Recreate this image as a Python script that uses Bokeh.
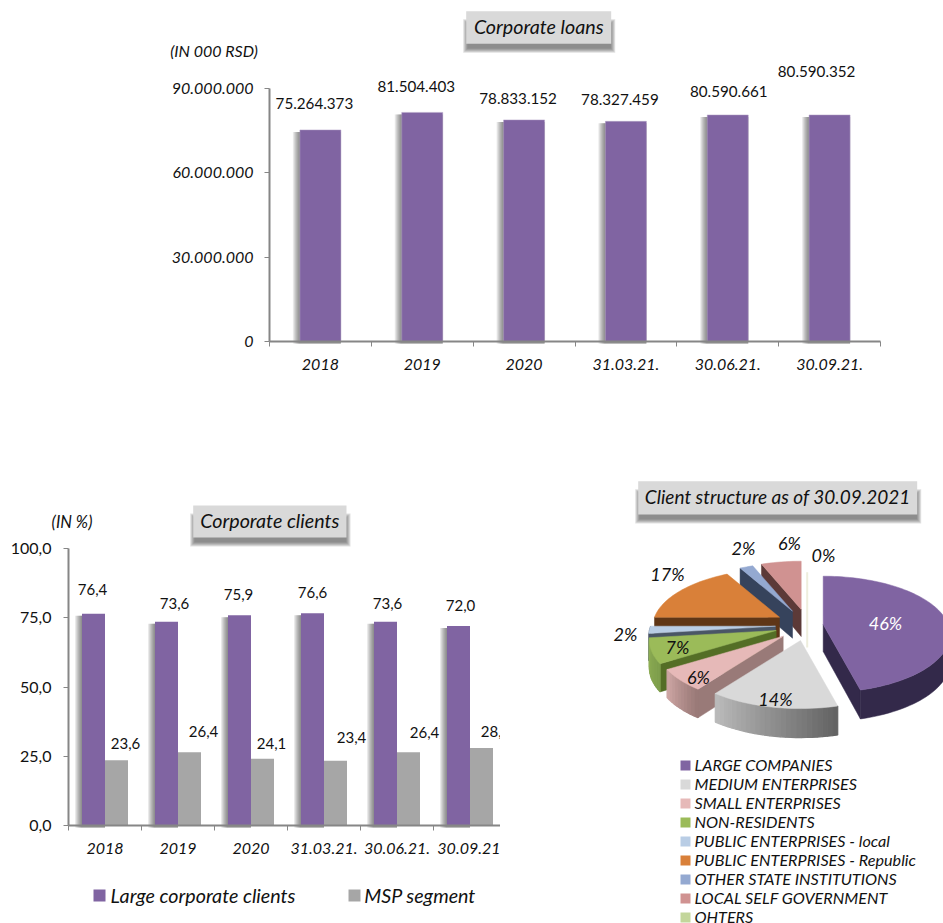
import math
from bokeh.plotting import figure
from bokeh.layouts import column, row
from bokeh.models import Range1d, FixedTicker, AllLabels, Label, BoxAnnotation
from bokeh.core.properties import value
from bokeh.embed import file_html
from bokeh.resources import INLINE

FONT = "Lato"
PURPLE = "#8064A2"
GREY = "#A6A6A6"
AXIS = "#868686"
TEXT = "#111111"

# ---------- data ----------
loan_periods = ["2018", "2019", "2020", "31.03.21.", "30.06.21.", "30.09.21."]
loan_values = [75264373, 81504403, 78833152, 78327459, 80590661, 80590352]
loan_labels = ["75.264.373", "81.504.403", "78.833.152", "78.327.459", "80.590.661", "80.590.352"]
loan_ticks = [0, 30000000, 60000000, 90000000]
loan_tick_labels = ["0", "30.000.000", "60.000.000", "90.000.000"]

client_periods = ["2018", "2019", "2020", "31.03.21.", "30.06.21.", "30.09.21"]
large_clients = [76.4, 73.6, 75.9, 76.6, 73.6, 72.0]
msp_segment = [23.6, 26.4, 24.1, 23.4, 26.4, 28.0]
client_ticks = [0, 25, 50, 75, 100]
client_tick_labels = ["0,0", "25,0", "50,0", "75,0", "100,0"]

pie_names = ["LARGE COMPANIES", "MEDIUM ENTERPRISES", "SMALL ENTERPRISES", "NON-RESIDENTS",
             "PUBLIC ENTERPRISES - local", "PUBLIC ENTERPRISES - Republic",
             "OTHER STATE INSTITUTIONS", "LOCAL SELF GOVERNMENT", "OHTERS"]
pie_shares = [46, 14, 6, 7, 2, 17, 2, 6, 0]
pie_colors = ["#8064A2", "#D9D9D9", "#E6B9B8", "#9BBB59", "#B9CDE5", "#D98039", "#94A9D1", "#D09291", "#C3D69B"]

# ---------- layout of hand-placed marks (pixels, not data) ----------
loan_label_dx = [-6, -6, -6, -6, 1, -13]
loan_label_dy = [-26, -26, -21, -22, -23, -43]
large_label_dx = [-1, 8, -1, 0, 2, 2]
large_label_dy = [-24, -18, -21, -21, -18, -21]
msp_label_dx = [9, 14, 9, 16, 16, 14]
msp_label_dy = [-17, -21, -15, -23, -20, -16]

pie_apex = [(822.7, 624), (800, 640), (782.7, 635.7), (775.7, 630), (775, 625.7),
            (779, 616.7), (792, 610.7), (800.7, 609), (806.7, 620)]
pie_wall = ["#33294A", "#8F8F8F", "#997A78", "#546E26", "#4A5666", "#5F3616", "#36435C", "#5C3A38", "#EEEEDD"]
pie_arc_a = ["#33294A", "#BDBDBD", "#D2A9A7", "#8FAE55", "#4A5666", "#5F3616", "#36435C", "#5C3A38", "#EEEEDD"]
pie_arc_b = ["#33294A", "#636363", "#9A7A78", "#7E9E4C", "#4A5666", "#5F3616", "#36435C", "#5C3A38", "#EEEEDD"]
pie_label_xy = [(885, 622), (775, 698), (698, 676), (677, 646), (625, 633), (667, 573), (743, 547), (789, 542), (823, 554)]
pie_label_colors = ["white"] + [TEXT] * 8
RX, RY, K = 125, 56.5, 0.17


def new_fig(w, h, xr, yr):
    p = figure(width=w, height=h, x_range=xr, y_range=yr, toolbar_location=None,
               output_backend="svg", min_border=0, outline_line_color=None,
               background_fill_color="white", border_fill_color="white")
    p.grid.visible = False
    return p


def style_axes(p, y_ticks, y_labels, x_labels, y_style, size, x_size, y_standoff, x_standoff, x_end):
    centers = [i + 0.5 for i in range(len(x_labels))]
    ax = p.xaxis[0]
    ax.fixed_location = 0
    ax.bounds = (0, x_end)
    ax.ticker = FixedTicker(ticks=centers, minor_ticks=list(range(len(x_labels) + 1)))
    ax.major_label_overrides = {c: l for c, l in zip(centers, x_labels)}
    ax.major_label_policy = AllLabels()
    ax.major_tick_in = 0
    ax.major_tick_out = 0
    ax.minor_tick_in = 0
    ax.minor_tick_out = 5
    ax.minor_tick_line_color = AXIS
    ax.minor_tick_line_width = 1
    ax.axis_line_color = AXIS
    ax.axis_line_width = 2
    ax.major_label_text_font = FONT
    ax.major_label_text_font_style = "italic"
    ax.major_label_text_font_size = x_size
    ax.major_label_text_color = TEXT
    ax.major_label_standoff = x_standoff
    ay = p.yaxis[0]
    ay.fixed_location = 0
    ay.bounds = (y_ticks[0], y_ticks[-1])
    ay.ticker = FixedTicker(ticks=y_ticks, minor_ticks=[])
    ay.major_label_overrides = {t: l for t, l in zip(y_ticks, y_labels)}
    ay.major_label_policy = AllLabels()
    ay.major_tick_in = 0
    ay.major_tick_out = 5
    ay.major_tick_line_color = AXIS
    ay.major_tick_line_width = 1
    ay.axis_line_color = AXIS
    ay.axis_line_width = 2
    ay.major_label_text_font = FONT
    ay.major_label_text_font_style = y_style
    ay.major_label_text_font_size = size
    ay.major_label_text_color = TEXT
    ay.major_label_standoff = y_standoff


def caption(p, x, y, text, size="15px", style="italic", color=TEXT):
    p.add_layout(Label(x=x, y=y, x_units="canvas", y_units="canvas", text=text, text_font=FONT,
                       text_font_style=style, text_font_size=size, text_color=color,
                       text_align="center", text_baseline="middle"))


def title_box(p, l, t, r, b, text, size="19.7px"):
    for i in range(5):
        p.add_layout(BoxAnnotation(left=l + 1 - i, right=r + i, top=t + 12 - i, bottom=b + 5 + i,
                                   left_units="canvas", right_units="canvas", top_units="canvas",
                                   bottom_units="canvas", fill_color="#404040", fill_alpha=0.16,
                                   line_color=None))
    p.add_layout(BoxAnnotation(left=l, right=r, top=t, bottom=b, left_units="canvas", right_units="canvas",
                               top_units="canvas", bottom_units="canvas", fill_color="#D9D9D9",
                               fill_alpha=1, line_color=None))
    caption(p, (l + r) / 2, (t + b) / 2 - 1, text, size)


def square(p, l, t, s, color):
    p.add_layout(BoxAnnotation(left=l, right=l + s, top=t, bottom=t + s, left_units="canvas",
                               right_units="canvas", top_units="canvas", bottom_units="canvas",
                               fill_color=color, fill_alpha=1, line_color=None))


def bar_shadow(p, lefts, rights, vals, px_x, px_y, layers=7):
    for i in range(1, layers + 1):
        p.quad(left=[l - i * px_x for l in lefts], right=rights,
               top=[v - 2 * px_y for v in vals], bottom=[-2 * px_y] * len(vals),
               fill_color="#303030", fill_alpha=0.1, line_color=None)


# ---------- top chart ----------
px_x1, px_y1 = 6 / 611, 90000000 / 253
p1 = new_fig(943, 470, Range1d(-269 * px_x1, (943 - 269) * px_x1), Range1d(-(470 - 341) * px_y1, 341 * px_y1))
c1 = [i + 0.5 for i in range(6)]
hw1 = 20.5 * px_x1
l1 = [c - hw1 for c in c1]
r1 = [c + hw1 for c in c1]
bar_shadow(p1, l1, r1, loan_values, px_x1, px_y1)
p1.quad(left=l1, right=r1, top=loan_values, bottom=0, fill_color=PURPLE, line_color="#B3A2C7", line_width=0.5)
p1.text(x=c1, y=loan_values, text=loan_labels, x_offset=loan_label_dx, y_offset=loan_label_dy,
        text_font=value(FONT), text_font_size="15.2px", text_color=TEXT, text_align="center", text_baseline="middle")
style_axes(p1, loan_ticks, loan_tick_labels, loan_periods, "italic", "16px", "16px", 11, 12, 6)
caption(p1, 213.5, 50, "(IN 000 RSD)", "16px")
title_box(p1, 465.7, 10.7, 610.7, 43.3, "Corporate loans")

# ---------- bottom left chart ----------
px_x2, px_y2 = 1 / 73, 100 / 277
p2 = new_fig(500, 453, Range1d(-68 * px_x2, 432 * px_x2), Range1d(-98 * px_y2, 355 * px_y2))
c2 = [i + 0.5 for i in range(6)]
bw = 23 * px_x2
lp = [c - bw for c in c2]
rg = [c + bw for c in c2]
bar_shadow(p2, lp, c2, large_clients, px_x2, px_y2)
p2.quad(left=c2, right=rg, top=msp_segment, bottom=0, fill_color=GREY, line_color=None)
p2.quad(left=lp, right=c2, top=large_clients, bottom=0, fill_color=PURPLE, line_color=None)
xl = [c - bw / 2 for c in c2]
xm = [c + bw / 2 for c in c2]
p2.text(x=xl, y=large_clients, text=[f"{v:.1f}".replace(".", ",") for v in large_clients],
        x_offset=large_label_dx, y_offset=large_label_dy, text_font=value(FONT), text_font_size="15px",
        text_color=TEXT, text_align="center", text_baseline="middle")
p2.text(x=xm, y=msp_segment, text=[f"{v:.1f}".replace(".", ",") for v in msp_segment],
        x_offset=msp_label_dx, y_offset=msp_label_dy, text_font=value(FONT), text_font_size="15px",
        text_color=TEXT, text_align="center", text_baseline="middle")
style_axes(p2, client_ticks, client_tick_labels, client_periods, "normal", "16px", "16px", 12, 12, 432 / 73)
caption(p2, 71.5, 51.7, "(IN %)", "16.5px")
title_box(p2, 192.7, 35, 346, 67, "Corporate clients")
square(p2, 93, 419, 12, PURPLE)
caption(p2, 202.5, 425, "Large corporate clients", "19.7px")
square(p2, 348, 419, 12, GREY)
caption(p2, 419.5, 425, "MSP segment", "19.7px")

# ---------- pie ----------
p3 = new_fig(443, 453, Range1d(500, 943), Range1d(923, 470))
p3.xaxis.visible = False
p3.yaxis.visible = False


def proj(theta, apex, r=1.0):
    s, c = math.sin(theta), math.cos(theta)
    f = 1 + K * c * r
    return apex[0] + RX * r * s / f, apex[1] - RY * r * c / f


def depth(theta, r=1.0):
    return 27 - 2 * r * math.cos(theta)


def mix(a, b, t):
    va = [int(a[i:i + 2], 16) for i in (1, 3, 5)]
    vb = [int(b[i:i + 2], 16) for i in (1, 3, 5)]
    return "#%02x%02x%02x" % tuple(int(round(x + (y - x) * t)) for x, y in zip(va, vb))


def wall(apex, theta, color):
    x1, y1 = proj(theta, apex)
    xs = [apex[0], x1, x1, apex[0]]
    ys = [apex[1], y1, y1 + depth(theta), apex[1] + depth(theta, 0)]
    p3.patch(xs, ys, fill_color=color, line_color=color, line_width=0.5)


slices = []
start = 0.0
for i, share in enumerate(pie_shares):
    end = start + share / 100 * 2 * math.pi
    slices.append((i, start, end))
    start = end

# paint back to front: last slices sit at the back of the pie
for i, a, b in [slices[8], slices[7], slices[6], slices[5], slices[4], slices[3], slices[2], slices[1], slices[0]]:
    apex = pie_apex[i]
    if pie_shares[i] == 0:
        x1, y1 = proj(0, apex)
        p3.line([apex[0], x1], [apex[1] + 27, y1], line_color=pie_wall[i], line_width=2)
        continue
    if math.sin(a) < 0:
        wall(apex, a, pie_wall[i])
    if math.sin(b) > 0:
        wall(apex, b, pie_wall[i])
    n = max(8, int((b - a) / math.radians(2)))
    front = [a + (b - a) * j / n for j in range(n + 1)]
    visible = [t for t in front if math.cos(t) < 0.02]
    if pie_arc_a[i] == pie_arc_b[i]:
        if len(visible) > 1:
            tops = [proj(t, apex) for t in visible]
            lows = [(q[0], q[1] + depth(t)) for q, t in zip(tops, visible)][::-1]
            p3.patch([q[0] for q in tops + lows], [q[1] for q in tops + lows],
                     fill_color=pie_arc_a[i], line_color=pie_arc_a[i], line_width=0.5)
    else:
        for j in range(n):
            t0, t1 = front[j], front[j + 1]
            if math.cos((t0 + t1) / 2) >= 0:
                continue
            x0, y0 = proj(t0, apex)
            x1, y1 = proj(t1, apex)
            col = mix(pie_arc_b[i], pie_arc_a[i], j / n)
            p3.patch([x0, x1, x1, x0], [y0, y1, y1 + depth(t1), y0 + depth(t0)],
                     fill_color=col, line_color=col, line_width=1.2)
    pts = [proj(t, apex) for t in front]
    p3.patch([apex[0]] + [q[0] for q in pts], [apex[1]] + [q[1] for q in pts],
             fill_color=pie_colors[i], line_color=pie_colors[i], line_width=0.5)

p3.text(x=[q[0] for q in pie_label_xy], y=[q[1] for q in pie_label_xy], text=[f"{s}%" for s in pie_shares],
        text_color=pie_label_colors, text_font=value(FONT), text_font_style="italic", text_font_size="18px",
        text_align="center", text_baseline="middle")

legend_x = 685
legend_rows = [765 + 19 * i for i in range(len(pie_names))]
p3.scatter(x=[legend_x] * len(pie_names), y=legend_rows, marker="square", size=10, fill_color=pie_colors, line_color=None)
p3.text(x=[694] * len(pie_names), y=[r - 1 for r in legend_rows], text=pie_names, text_font=value(FONT),
        text_font_style="italic", text_font_size="16.2px", text_color=TEXT, text_align="left", text_baseline="middle")
title_box(p3, 137.7, 10.7, 416.7, 44, "Client structure as of 30.09.2021", "19px")

page = column(p1, row(p2, p3, spacing=0), spacing=0)
open("out.html", "w").write(file_html(page, INLINE))
